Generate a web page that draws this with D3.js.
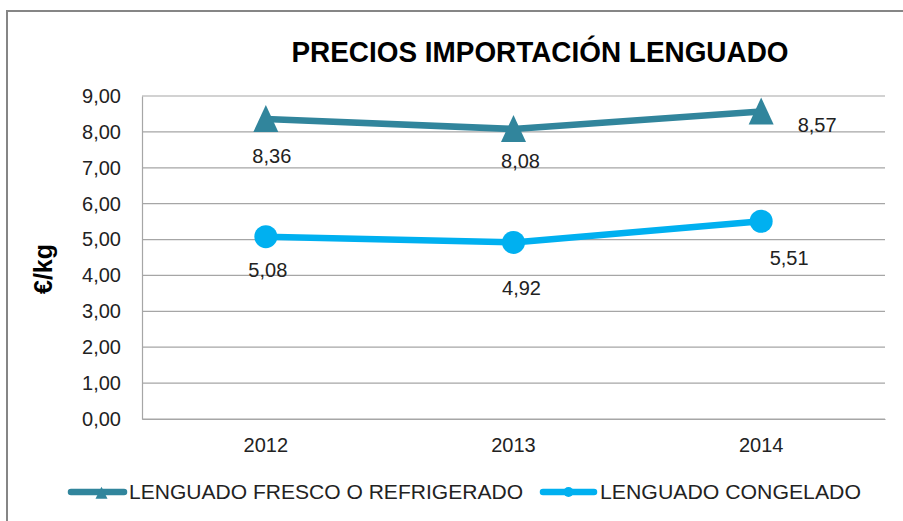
<!DOCTYPE html>
<html>
<head>
<meta charset="utf-8">
<script src="https://cdn.jsdelivr.net/npm/d3@7.9.0/dist/d3.min.js"></script>
<style>
  body { margin: 0; background: #fff; }
  svg { display: block; font-family: "Liberation Sans", Arial, sans-serif; }
</style>
</head>
<body>
<svg id="chart" width="903" height="521"></svg>
<script>
const years = ['2012', '2013', '2014'];
const fresco = [8.36, 8.08, 8.57];
const congelado = [5.08, 4.92, 5.51];
const yTicks = [0, 1, 2, 3, 4, 5, 6, 7, 8, 9];
const seriesNames = ['LENGUADO FRESCO O REFRIGERADO', 'LENGUADO CONGELADO'];

const svg = d3.select('#chart');
const fmt = (v) => v.toFixed(2).replace('.', ',');

// outer frame
svg.append('rect')
  .attr('x', 7).attr('y', 11).attr('width', 910).attr('height', 530)
  .attr('fill', '#fff').attr('stroke', '#868686').attr('stroke-width', 2);

const plotLeft = 142, plotRight = 885, plotTop = 96, plotBottom = 419;

const x = d3.scaleBand().domain(years).range([plotLeft, plotRight]);
const y = d3.scaleLinear().domain([0, 9]).range([plotBottom, plotTop]);

// gridlines
svg.append('g')
  .selectAll('line')
  .data(yTicks)
  .join('line')
  .attr('x1', plotLeft).attr('x2', plotRight)
  .attr('y1', (d) => y(d)).attr('y2', (d) => y(d))
  .attr('stroke', '#a6a6a6').attr('stroke-width', 1.2);

// y axis
const yAxis = svg.append('g')
  .attr('transform', `translate(${plotLeft},0)`)
  .call(d3.axisLeft(y).tickValues(yTicks).tickFormat(fmt).tickSize(0).tickPadding(21));
yAxis.select('.domain').attr('stroke', '#a6a6a6').attr('stroke-width', 1.2);
yAxis.selectAll('text').attr('font-size', 20).attr('fill', '#222')
  .attr('font-family', '"Liberation Sans", Arial, sans-serif');

// x axis
const xAxis = svg.append('g')
  .attr('transform', `translate(0,${plotBottom})`)
  .call(d3.axisBottom(x).tickSize(0).tickPadding(0));
xAxis.select('.domain').attr('stroke', '#a6a6a6').attr('stroke-width', 1.2);
xAxis.selectAll('text').attr('font-size', 20).attr('fill', '#222')
  .attr('font-family', '"Liberation Sans", Arial, sans-serif')
  .attr('dy', null).attr('y', 33);

// title
svg.append('text')
  .attr('x', 540).attr('y', 62)
  .attr('text-anchor', 'middle')
  .attr('font-size', 29).attr('font-weight', 'bold').attr('fill', '#000')
  .attr('textLength', 497).attr('lengthAdjust', 'spacingAndGlyphs')
  .text('PRECIOS IMPORTACIÓN LENGUADO');

// y label
svg.append('text')
  .attr('transform', 'translate(52,269) rotate(-90)')
  .attr('text-anchor', 'middle')
  .attr('font-size', 25).attr('font-weight', 'bold').attr('fill', '#000')
  .text('€/kg');

const cx = (i) => x(years[i]) + x.bandwidth() / 2;
const line = d3.line().x((d, i) => cx(i)).y((d) => y(d));

// tall triangle like the spreadsheet marker
const triangle = (w, h) => ({
  draw(ctx) {
    ctx.moveTo(0, -h * 0.52);
    ctx.lineTo(w / 2, h * 0.48);
    ctx.lineTo(-w / 2, h * 0.48);
    ctx.closePath();
  }
});
const tri = d3.symbol().type(triangle(25, 27));
const triSmall = d3.symbol().type(triangle(12, 12));

const colFresco = '#31859c';
const colCong = '#00b0f0';

// fresco series
svg.append('path').datum(fresco)
  .attr('d', line).attr('fill', 'none')
  .attr('stroke', colFresco).attr('stroke-width', 6.5).attr('stroke-linejoin', 'round');
svg.append('g').selectAll('path').data(fresco).join('path')
  .attr('d', tri)
  .attr('transform', (d, i) => `translate(${cx(i)},${y(d)})`)
  .attr('fill', colFresco);

// congelado series
svg.append('path').datum(congelado)
  .attr('d', line).attr('fill', 'none')
  .attr('stroke', colCong).attr('stroke-width', 6.5).attr('stroke-linejoin', 'round');
svg.append('g').selectAll('circle').data(congelado).join('circle')
  .attr('cx', (d, i) => cx(i)).attr('cy', (d) => y(d)).attr('r', 11.5)
  .attr('fill', colCong);

// data labels (offsets from the point)
const frescoOff = [[6, 44], [7, 39], [56, 21]];
const congOff = [[2, 40], [8, 53], [28, 44]];
const addLabels = (vals, offs) => {
  svg.append('g').selectAll('text').data(vals).join('text')
    .attr('x', (d, i) => cx(i) + offs[i][0])
    .attr('y', (d, i) => y(d) + offs[i][1])
    .attr('text-anchor', 'middle')
    .attr('font-size', 20).attr('fill', '#222')
    .text(fmt);
};
addLabels(fresco, frescoOff);
addLabels(congelado, congOff);

// legend
const legend = svg.append('g')
  .attr('font-size', 20).attr('fill', '#222');
const legItems = [
  { name: seriesNames[0], color: colFresco, x0: 71, x1: 124, tx: 129, len: 394, mark: 'tri' },
  { name: seriesNames[1], color: colCong, x0: 543, x1: 594, tx: 600, len: 261, mark: 'circle' }
];
legItems.forEach((it) => {
  legend.append('line')
    .attr('x1', it.x0).attr('x2', it.x1).attr('y1', 492).attr('y2', 492)
    .attr('stroke', it.color).attr('stroke-width', 6.5).attr('stroke-linecap', 'round');
  if (it.mark === 'tri') {
    legend.append('path').attr('d', triSmall)
      .attr('transform', `translate(${(it.x0 + it.x1) / 2 + 4},493)`).attr('fill', it.color);
  } else {
    legend.append('circle').attr('cx', (it.x0 + it.x1) / 2).attr('cy', 492).attr('r', 5)
      .attr('fill', it.color);
  }
  legend.append('text').attr('x', it.tx).attr('y', 499)
    .attr('textLength', it.len).attr('lengthAdjust', 'spacingAndGlyphs')
    .text(it.name);
});
</script>
</body>
</html>
